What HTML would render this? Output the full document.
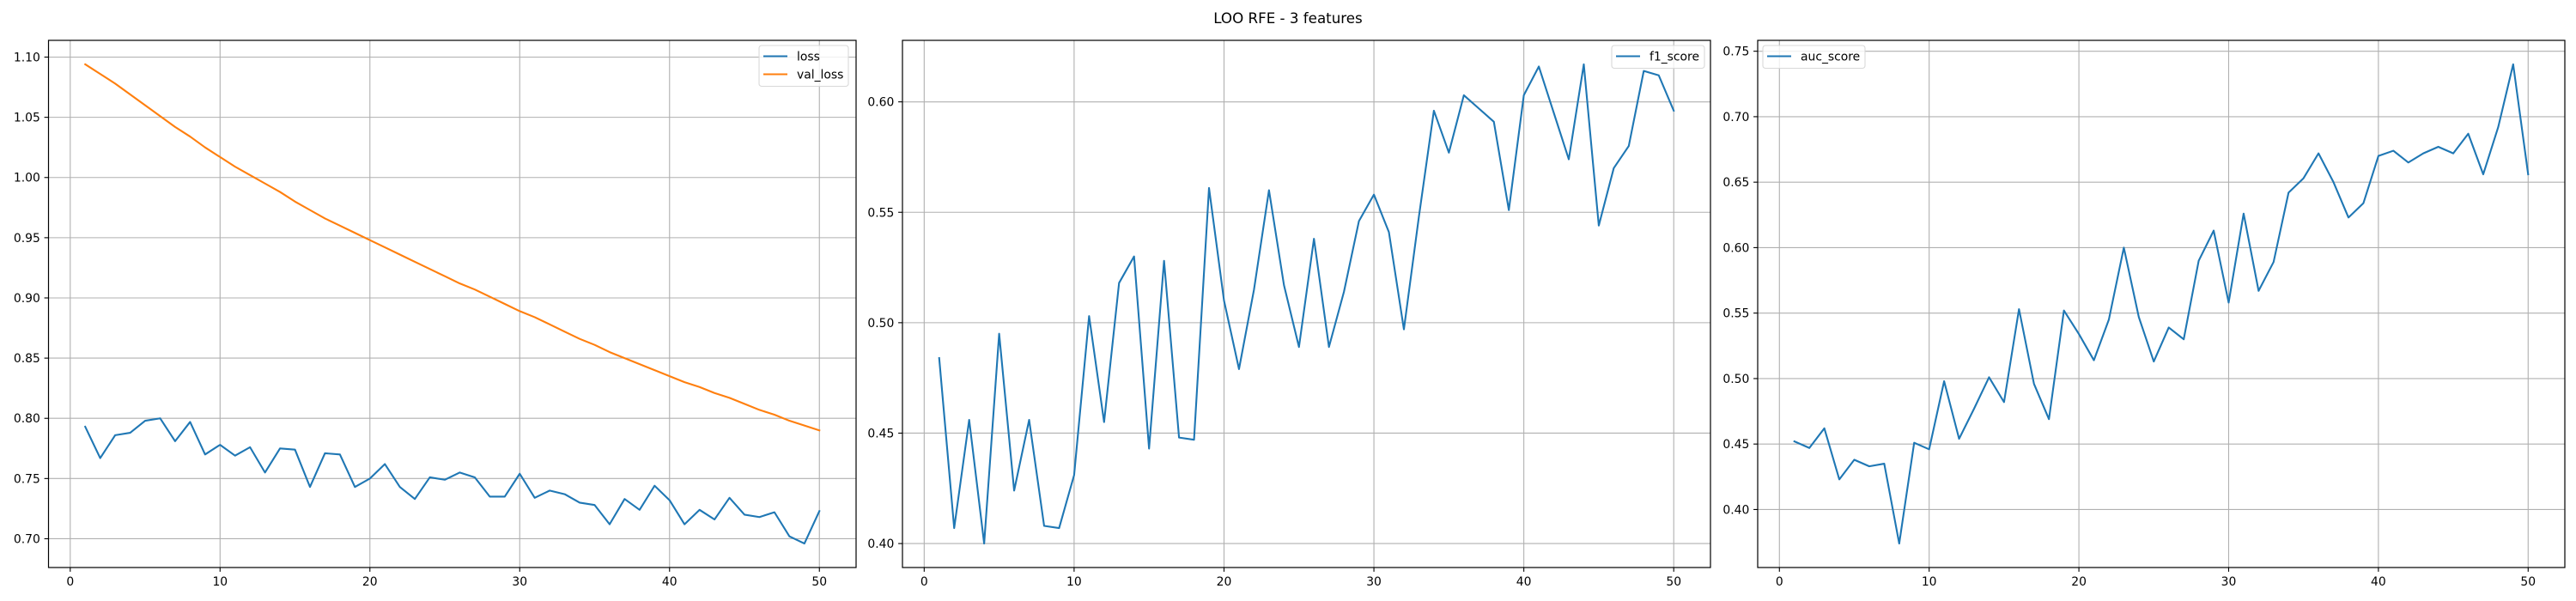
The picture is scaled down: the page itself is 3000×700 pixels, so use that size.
<!DOCTYPE html>
<html><head><meta charset="utf-8"><style>
html,body{margin:0;padding:0;background:#fff;}
svg{display:block;font-family:"DejaVu Sans","Liberation Sans",sans-serif;}
</style></head><body>
<svg id="fig" width="3000" height="700" xmlns="http://www.w3.org/2000/svg">
<text x="1500" y="27" text-anchor="middle" font-size="16.7" fill="#000">LOO RFE - 3 features</text>
</svg>
<script>
const epochs = [];
for (let i = 1; i <= 50; i++) epochs.push(i);
const lossValues = [0.793,0.767,0.786,0.788,0.798,0.800,0.781,0.797,0.770,0.778,0.769,0.776,0.755,0.775,0.774,0.743,0.771,0.770,0.743,0.750,0.762,0.743,0.733,0.751,0.749,0.755,0.751,0.735,0.735,0.754,0.734,0.740,0.737,0.730,0.728,0.712,0.733,0.724,0.744,0.732,0.712,0.724,0.716,0.734,0.720,0.718,0.722,0.702,0.696,0.723];
const valLossValues = [1.094,1.086,1.078,1.069,1.060,1.051,1.042,1.034,1.025,1.017,1.009,1.002,0.995,0.988,0.980,0.973,0.966,0.960,0.954,0.948,0.942,0.936,0.930,0.924,0.918,0.912,0.907,0.901,0.895,0.889,0.884,0.878,0.872,0.866,0.861,0.855,0.850,0.845,0.840,0.835,0.830,0.826,0.821,0.817,0.812,0.807,0.803,0.798,0.794,0.790];
const f1Values = [0.484,0.407,0.456,0.400,0.495,0.424,0.456,0.408,0.407,0.431,0.503,0.455,0.518,0.530,0.443,0.528,0.448,0.447,0.561,0.510,0.479,0.515,0.560,0.517,0.489,0.538,0.489,0.514,0.546,0.558,0.541,0.497,0.548,0.596,0.577,0.603,0.597,0.591,0.551,0.603,0.616,0.595,0.574,0.617,0.544,0.570,0.580,0.614,0.612,0.596];
const aucValues = [0.452,0.447,0.462,0.423,0.438,0.433,0.435,0.374,0.451,0.446,0.498,0.454,0.477,0.501,0.482,0.553,0.496,0.469,0.552,0.534,0.514,0.545,0.600,0.547,0.513,0.539,0.530,0.590,0.613,0.558,0.626,0.567,0.589,0.642,0.653,0.672,0.650,0.623,0.634,0.670,0.674,0.665,0.672,0.677,0.672,0.687,0.656,0.692,0.740,0.656];
const xTicks = [0,10,20,30,40,50];
const lossTicks = [0.70,0.75,0.80,0.85,0.90,0.95,1.00,1.05,1.10];
const f1Ticks = [0.40,0.45,0.50,0.55,0.60];
const aucTicks = [0.40,0.45,0.50,0.55,0.60,0.65,0.70,0.75];

const NS = "http://www.w3.org/2000/svg";
const fig = document.getElementById('fig');
function mk(tag, attrs, parent) {
  const e = document.createElementNS(NS, tag);
  for (const k in attrs) e.setAttribute(k, attrs[k]);
  (parent || fig).appendChild(e);
  return e;
}
const BLUE = "#1f77b4", ORANGE = "#ff7f0e";
const FS = 13.9;

function panel(name, L, R, T, B, series, yTicks, legend) {
  const g = mk('g', {});
  
  
  let all = [];
  series.forEach(s => all = all.concat(s.values));
  const ymin = Math.min(...all), ymax = Math.max(...all);
  const ym = (ymax - ymin) * 0.05;
  const y0 = ymin - ym, y1 = ymax + ym;
  const xm = (50 - 1) * 0.05, x0 = 1 - xm, x1 = 50 + xm;
  const sx = v => L + (v - x0) / (x1 - x0) * (R - L);
  const sy = v => B - (v - y0) / (y1 - y0) * (B - T);
  xTicks.forEach(t => {
    const x = sx(t);
    const gl = mk('line', {x1:x, x2:x, y1:T, y2:B, stroke:'#b0b0b0', 'stroke-width':1.1}, g);
    
    
    mk('line', {x1:x, x2:x, y1:B, y2:B+4.9, stroke:'#000', 'stroke-width':1.1}, g);
    const tx = mk('text', {x:x, y:B+21, 'text-anchor':'middle', 'font-size':FS}, g);
    tx.textContent = String(t);
    
    
  });
  yTicks.forEach(t => {
    const y = sy(t);
    const gl = mk('line', {x1:L, x2:R, y1:y, y2:y, stroke:'#b0b0b0', 'stroke-width':1.1}, g);
    
    
    mk('line', {x1:L-4.9, x2:L, y1:y, y2:y, stroke:'#000', 'stroke-width':1.1}, g);
    const tx = mk('text', {x:L-9.7, y:y+5, 'text-anchor':'end', 'font-size':FS}, g);
    tx.textContent = t.toFixed(2);
    
    
  });
  series.forEach(s => {
    const d = s.values.map((v, i) => (i ? 'L' : 'M') + sx(epochs[i]).toFixed(2) + ' ' + sy(v).toFixed(2)).join(' ');
    const p = mk('path', {d:d, fill:'none', stroke:s.color, 'stroke-width':2.1, 'stroke-linejoin':'round', 'stroke-linecap':'square'}, g);
    
    
  });
  const fr = mk('rect', {x:L, y:T, width:R-L, height:B-T, fill:'none', stroke:'#000', 'stroke-width':1.2}, g);
  
  
  const lg = mk('g', {}, g);
  
  
  mk('rect', {x:legend.x, y:legend.y, width:legend.w, height:5.5 + series.length*21, rx:3, fill:'#fff', 'fill-opacity':0.8, stroke:'#d8d8d8', 'stroke-width':1.1}, lg);
  series.forEach((s, i) => {
    const cy = legend.y + 12.5 + i*21;
    const e = mk('g', {}, lg);
    
    
    mk('line', {x1:legend.x+5, x2:legend.x+33, y1:cy, y2:cy, stroke:s.color, 'stroke-width':2.1}, e);
    const t = mk('text', {x:legend.x+44, y:cy+5, 'font-size':FS}, e);
    t.textContent = s.label;
  });
}
panel('loss', 56.5, 997, 47, 661,
  [{label:'loss', values:lossValues, color:BLUE},{label:'val_loss', values:valLossValues, color:ORANGE}],
  lossTicks, {x:884, y:53, w:104});
panel('f1', 1051, 1992, 47, 661,
  [{label:'f1_score', values:f1Values, color:BLUE}],
  f1Ticks, {x:1877, y:53, w:108});
panel('auc', 2047, 2987, 47, 661,
  [{label:'auc_score', values:aucValues, color:BLUE}],
  aucTicks, {x:2053, y:53, w:119});
</script>
</body></html>
